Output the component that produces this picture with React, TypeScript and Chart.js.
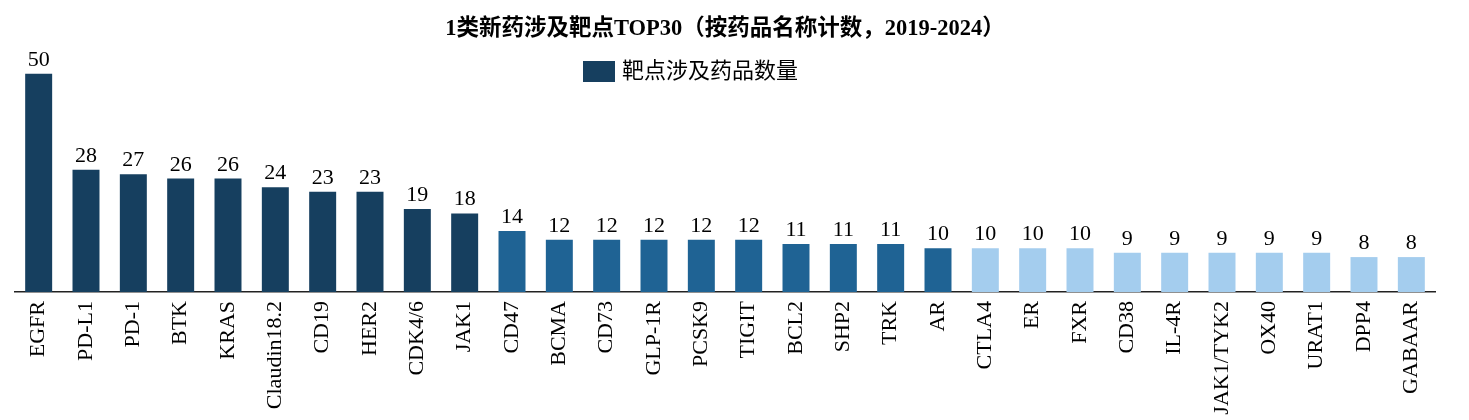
import React, { useEffect, useRef } from "react";
import { Chart, registerables } from "chart.js";

Chart.register(...registerables);

const TITLE = "1类新药涉及靶点TOP30（按药品名称计数，2019-2024）";
const LEGEND_LABEL = "靶点涉及药品数量";

const categories = [
  "EGFR", "PD-L1", "PD-1", "BTK", "KRAS", "Claudin18.2", "CD19", "HER2", "CDK4/6", "JAK1",
  "CD47", "BCMA", "CD73", "GLP-1R", "PCSK9", "TIGIT", "BCL2", "SHP2", "TRK", "AR",
  "CTLA4", "ER", "FXR", "CD38", "IL-4R", "JAK1/TYK2", "OX40", "URAT1", "DPP4", "GABAAR",
];

const counts = [
  50, 28, 27, 26, 26, 24, 23, 23, 19, 18,
  14, 12, 12, 12, 12, 12, 11, 11, 11, 10,
  10, 10, 10, 9, 9, 9, 9, 9, 8, 8,
];

// tier of each bar (top / middle / lower group)
const tiers = [
  0, 0, 0, 0, 0, 0, 0, 0, 0, 0,
  1, 1, 1, 1, 1, 1, 1, 1, 1, 1,
  2, 2, 2, 2, 2, 2, 2, 2, 2, 2,
];

const TIER_COLORS = ["#163f5f", "#1f6394", "#a4cdee"];
const FONT = "'Liberation Serif', 'Noto Sans CJK SC', serif";

const valueLabels = {
  id: "valueLabels",
  afterDatasetsDraw(chart: any) {
    const ctx = chart.ctx;
    const meta = chart.getDatasetMeta(0);
    ctx.save();
    ctx.font = `22px ${FONT}`;
    ctx.fillStyle = "#000";
    ctx.textAlign = "center";
    ctx.textBaseline = "alphabetic";
    meta.data.forEach((el: any, i: number) => {
      ctx.fillText(String(counts[i]), el.x, el.y - 8);
    });
    ctx.restore();
  },
};

const customLegend = {
  id: "customLegend",
  afterDraw(chart: any) {
    const ctx = chart.ctx;
    ctx.save();
    ctx.fillStyle = TIER_COLORS[0];
    ctx.fillRect(583, 61, 32, 21);
    ctx.font = `22px ${FONT}`;
    ctx.fillStyle = "#000";
    ctx.textAlign = "left";
    ctx.textBaseline = "middle";
    ctx.fillText(LEGEND_LABEL, 622, 72);
    ctx.restore();
  },
};

export default function App() {
  const ref = useRef<HTMLCanvasElement | null>(null);

  useEffect(() => {
    if (!ref.current) return;
    const chart = new Chart(ref.current, {
      type: "bar",
      data: {
        labels: categories,
        datasets: [
          {
            label: LEGEND_LABEL,
            data: counts,
            backgroundColor: tiers.map((t) => TIER_COLORS[t]),
            barPercentage: 0.57,
            categoryPercentage: 1,
            clip: false as any,
          },
        ],
      },
      options: {
        animation: false,
        responsive: false,
        maintainAspectRatio: false,
        layout: { padding: { left: 15, right: 34, top: 0, bottom: 0 } },
        plugins: {
          legend: { display: false },
          tooltip: { enabled: false },
          title: {
            display: true,
            text: TITLE,
            color: "#000",
            font: { family: FONT, size: 22.5, weight: "bold" },
            padding: { top: 16, bottom: 9 },
          },
        },
        scales: {
          x: {
            grid: { display: false },
            border: { display: true, color: "#222", width: 1.5 },
            ticks: {
              color: "#000",
              font: { family: FONT, size: 22 },
              minRotation: 90,
              maxRotation: 90,
              autoSkip: false,
              padding: 1,
            },
            afterFit(scale: any) {
              scale.height = 128;
            },
          },
          y: {
            display: false,
            min: 0,
            max: 55,
          },
        },
      },
      plugins: [valueLabels, customLegend],
    });
    return () => chart.destroy();
  }, []);

  return (
    <div style={{ position: "absolute", left: 0, top: 0, width: 1469, height: 420, background: "#fff" }}>
      <canvas ref={ref} width={1469} height={420} style={{ display: "block" }} />
    </div>
  );
}
